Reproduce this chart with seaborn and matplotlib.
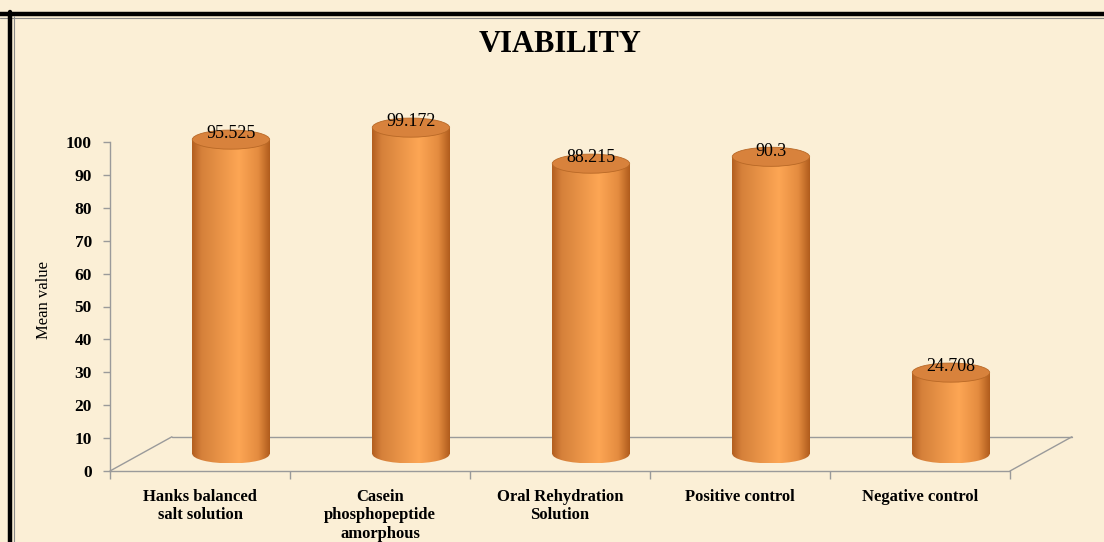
import numpy as np
import matplotlib
matplotlib.use("Agg")
import matplotlib.pyplot as plt
import seaborn as sns
from matplotlib.colors import LinearSegmentedColormap
from matplotlib.patches import Ellipse
from matplotlib.lines import Line2D

# ---- data ----
categories = ["Hanks balanced\nsalt solution",
              "Casein\nphosphopeptide\namorphous",
              "Oral Rehydration\nSolution",
              "Positive control",
              "Negative control"]
values = [95.525, 99.172, 88.215, 90.3, 24.708]
value_labels = ["95.525", "99.172", "88.215", "90.3", "24.708"]
y_ticks = [0, 10, 20, 30, 40, 50, 60, 70, 80, 90, 100]

BG = "#FBEFD6"
GRID = "#9A9A9A"

sns.set_theme(style="white")
plt.rcParams["font.family"] = ["Liberation Serif", "DejaVu Serif"]
plt.rcParams["text.color"] = "black"
plt.rcParams["axes.labelcolor"] = "black"
plt.rcParams["xtick.labelcolor"] = "black"
plt.rcParams["ytick.labelcolor"] = "black"

W, H = 1104, 542
fig = plt.figure(figsize=(W / 100, H / 100), dpi=100)
fig.patch.set_facecolor(BG)

# axes: x from 110 to 1010 px, y=0 at 471 px, 3.29 px/unit
left, right = 110, 1010
y0px = 471
ppu = 3.29
ymax = 115
ax = fig.add_axes([left / W, (H - y0px) / H, (right - left) / W, ymax * ppu / H])
ax.set_facecolor("none")

sns.barplot(x=list(range(len(values))), y=values, ax=ax, width=0.43,
            color="#F39A48", saturation=1, native_scale=False)

ax.set_xlim(-0.5, len(values) - 0.5)
ax.set_ylim(0, ymax)

# depth offsets (half of floor depth)
dx, dy = 0.172, 5.2
eh = 5.8  # ellipse height in data units

cmap = LinearSegmentedColormap.from_list(
    "cyl", [(0.0, "#B25E1E"), (0.12, "#D5803A"), (0.6, "#FDA654"),
            (0.85, "#E48C40"), (1.0, "#B05C1C")])
grad = np.linspace(0, 1, 256)[None, :]

for p, v, lab in zip(ax.patches, values, value_labels):
    p.set_x(p.get_x() + dx)
    p.set_y(p.get_y() + dy)
    p.set_facecolor("none")
    p.set_edgecolor("none")
    x0 = p.get_x()
    w = p.get_width()
    yb = p.get_y()
    yt = yb + p.get_height()
    cx = x0 + w / 2
    # bottom ellipse with gradient
    be = Ellipse((cx, yb), w, eh, facecolor="none", edgecolor="none", zorder=3)
    ax.add_patch(be)
    im = ax.imshow(grad, cmap=cmap, extent=(x0, x0 + w, yb - eh / 2, yb),
                   aspect="auto", zorder=3, interpolation="bilinear")
    im.set_clip_path(be)
    # body
    im2 = ax.imshow(grad, cmap=cmap, extent=(x0, x0 + w, yb, yt),
                    aspect="auto", zorder=3, interpolation="bilinear")
    im2.set_clip_path(p)
    # top ellipse
    te = Ellipse((cx, yt), w, eh, facecolor="#D8823C", edgecolor="#B86826",
                 linewidth=0.6, zorder=4)
    ax.add_patch(te)
    ax.text(cx, yt + eh * 0.3, lab, ha="center", va="center", fontsize=13,
            color="black", zorder=5)

ax.set_xlim(-0.5, len(values) - 0.5)
ax.set_ylim(0, ymax)

# floor (3D)
xl, xr = -0.5, len(values) - 0.5
ax.plot([xl, xr], [0, 0], color=GRID, lw=1, clip_on=False, zorder=1)
ax.plot([xl, xl + 2 * dx], [0, 2 * dy], color=GRID, lw=1, clip_on=False, zorder=1)
ax.plot([xl + 2 * dx, xr + 2 * dx], [2 * dy, 2 * dy], color=GRID, lw=1, clip_on=False, zorder=1)
ax.plot([xr, xr + 2 * dx], [0, 2 * dy], color=GRID, lw=1, clip_on=False, zorder=1)

# spines
for s in ["top", "right", "bottom"]:
    ax.spines[s].set_visible(False)
ax.spines["left"].set_color(GRID)
ax.spines["left"].set_linewidth(1)
ax.spines["left"].set_bounds(0, 100)

ax.set_yticks(y_ticks)
ax.set_yticklabels([str(t) for t in y_ticks], fontsize=12.5, fontweight="bold")
ax.tick_params(axis="y", direction="out", length=5, color=GRID, width=1, pad=8,
               left=True)

ax.set_xticks(range(len(values)))
ax.set_xticklabels(categories, fontsize=12, fontweight="bold", linespacing=1.2,
                   va="top")
ax.set_xticks(np.arange(-0.5, len(values)), minor=True)
ax.tick_params(axis="x", which="major", length=0, pad=13)
ax.tick_params(axis="x", which="minor", direction="out", length=6, color=GRID,
               width=1, bottom=True)

ax.set_ylabel("Mean value", fontsize=12, color="black")
ax.yaxis.set_label_coords(-0.064, 0.52 * 100 / ymax)
ax.set_xlabel("")

fig.text(560 / W, 1 - 44 / H, "VIABILITY", ha="center", va="center",
         fontsize=22, fontweight="bold")

# frame border (top and left)
fig.add_artist(Line2D([0, 1], [1 - 14 / H, 1 - 14 / H], color="black", lw=3.2))
fig.add_artist(Line2D([0, 1], [1 - 18 / H, 1 - 18 / H], color="#8A8A8A", lw=0.8))
fig.add_artist(Line2D([9.5 / W, 9.5 / W], [0, 1 - 12 / H], color="black", lw=3.2))
fig.add_artist(Line2D([13.5 / W, 13.5 / W], [0, 1 - 16 / H], color="#8A8A8A", lw=0.8))

fig.savefig("out.png", dpi=100, facecolor=BG)
